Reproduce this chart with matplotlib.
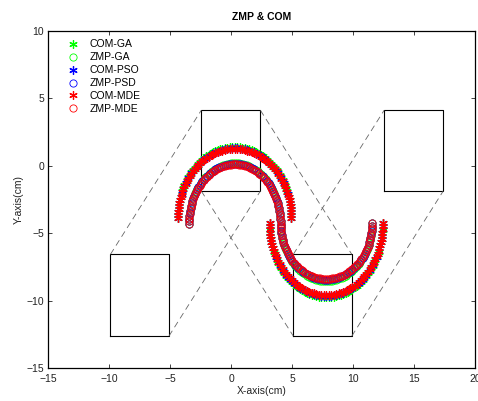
import matplotlib
matplotlib.use("Agg")
import matplotlib.pyplot as plt

# footprints (cm)
FOOT_LEFT = [-9.9, -2.45, 5.1, 12.55]
FOOT_RIGHT = [-5.1, 2.4, 9.9, 17.4]
FOOT_BOTTOM = [-12.63, -1.87, -12.63, -1.87]
FOOT_TOP = [-6.57, 4.12, -6.57, 4.12]

# COM trajectory: two arcs (x shared by the three methods)
COM_UP_X = [-4.35, -4.35, -4.33, -4.31, -4.28, -4.24, -4.19, -4.14, -4.07, -4.00,
            -3.91, -3.83, -3.73, -3.62, -3.51, -3.39, -3.26, -3.13, -2.99, -2.84,
            -2.69, -2.53, -2.37, -2.20, -2.03, -1.85, -1.67, -1.48, -1.29, -1.10,
            -0.90, -0.71, -0.51, -0.31, -0.11, 0.10, 0.30, 0.50, 0.71, 0.91,
            1.11, 1.31, 1.50, 1.70, 1.89, 2.08, 2.27, 2.45, 2.63, 2.80,
            2.97, 3.13, 3.29, 3.44, 3.59, 3.73, 3.86, 3.99, 4.11, 4.22,
            4.33, 4.43, 4.51, 4.60, 4.67, 4.74, 4.79, 4.84, 4.88, 4.91,
            4.93, 4.95, 4.95]
COM_LOW_X = [3.15, 3.15, 3.17, 3.19, 3.22, 3.26, 3.31, 3.36, 3.43, 3.50,
             3.59, 3.67, 3.77, 3.88, 3.99, 4.11, 4.24, 4.37, 4.51, 4.66,
             4.81, 4.97, 5.13, 5.30, 5.47, 5.65, 5.83, 6.02, 6.21, 6.40,
             6.60, 6.79, 6.99, 7.19, 7.39, 7.60, 7.80, 8.00, 8.21, 8.41,
             8.61, 8.81, 9.00, 9.20, 9.39, 9.58, 9.77, 9.95, 10.13, 10.30,
             10.47, 10.63, 10.79, 10.94, 11.09, 11.23, 11.36, 11.49, 11.61, 11.72,
             11.83, 11.93, 12.01, 12.10, 12.17, 12.24, 12.29, 12.34, 12.38, 12.41,
             12.43, 12.45, 12.45]

COM_UP_Y_GA = [-3.90, -3.67, -3.44, -3.21, -2.98, -2.75, -2.53, -2.31, -2.09, -1.87,
               -1.66, -1.45, -1.25, -1.05, -0.86, -0.67, -0.49, -0.32, -0.15, 0.01,
               0.16, 0.31, 0.44, 0.57, 0.69, 0.80, 0.90, 1.00, 1.08, 1.16,
               1.22, 1.27, 1.32, 1.35, 1.38, 1.40, 1.40, 1.40, 1.38, 1.35,
               1.32, 1.27, 1.22, 1.16, 1.08, 1.00, 0.90, 0.80, 0.69, 0.57,
               0.44, 0.31, 0.16, 0.01, -0.15, -0.32, -0.49, -0.67, -0.86, -1.05,
               -1.25, -1.45, -1.66, -1.87, -2.09, -2.31, -2.53, -2.75, -2.98, -3.21,
               -3.44, -3.67, -3.90]
COM_UP_Y_PSO = [-3.90, -3.67, -3.45, -3.22, -3.00, -2.78, -2.55, -2.34, -2.12, -1.91,
                -1.70, -1.50, -1.30, -1.11, -0.92, -0.73, -0.56, -0.39, -0.22, -0.07,
                0.08, 0.23, 0.36, 0.49, 0.60, 0.71, 0.81, 0.90, 0.99, 1.06,
                1.12, 1.18, 1.22, 1.26, 1.28, 1.30, 1.30, 1.30, 1.28, 1.26,
                1.22, 1.18, 1.12, 1.06, 0.99, 0.90, 0.81, 0.71, 0.60, 0.49,
                0.36, 0.23, 0.08, -0.07, -0.22, -0.39, -0.56, -0.73, -0.92, -1.11,
                -1.30, -1.50, -1.70, -1.91, -2.12, -2.34, -2.55, -2.78, -3.00, -3.22,
                -3.45, -3.67, -3.90]
COM_UP_Y_MDE = [-3.90, -3.68, -3.45, -3.23, -3.01, -2.79, -2.57, -2.35, -2.14, -1.93,
                -1.72, -1.52, -1.33, -1.13, -0.95, -0.77, -0.59, -0.42, -0.26, -0.10,
                0.05, 0.19, 0.32, 0.44, 0.56, 0.67, 0.77, 0.86, 0.94, 1.01,
                1.07, 1.13, 1.17, 1.21, 1.23, 1.24, 1.25, 1.24, 1.23, 1.21,
                1.17, 1.13, 1.07, 1.01, 0.94, 0.86, 0.77, 0.67, 0.56, 0.44,
                0.32, 0.19, 0.05, -0.10, -0.26, -0.42, -0.59, -0.77, -0.95, -1.13,
                -1.33, -1.52, -1.72, -1.93, -2.14, -2.35, -2.57, -2.79, -3.01, -3.23,
                -3.45, -3.68, -3.90]

COM_LOW_Y_GA = [-4.25, -4.49, -4.73, -4.97, -5.21, -5.44, -5.67, -5.90, -6.13, -6.36,
                -6.57, -6.79, -7.00, -7.21, -7.41, -7.60, -7.79, -7.97, -8.14, -8.31,
                -8.46, -8.61, -8.76, -8.89, -9.01, -9.13, -9.24, -9.33, -9.42, -9.50,
                -9.56, -9.62, -9.67, -9.70, -9.73, -9.75, -9.75, -9.75, -9.73, -9.70,
                -9.67, -9.62, -9.56, -9.50, -9.42, -9.33, -9.24, -9.13, -9.01, -8.89,
                -8.76, -8.61, -8.46, -8.31, -8.14, -7.97, -7.79, -7.60, -7.41, -7.21,
                -7.00, -6.79, -6.57, -6.36, -6.13, -5.90, -5.67, -5.44, -5.21, -4.97,
                -4.73, -4.49, -4.25]
COM_LOW_Y_PSO = [-4.25, -4.49, -4.72, -4.96, -5.19, -5.42, -5.65, -5.87, -6.10, -6.32,
                 -6.53, -6.74, -6.95, -7.15, -7.35, -7.54, -7.72, -7.90, -8.07, -8.23,
                 -8.39, -8.53, -8.67, -8.80, -8.93, -9.04, -9.14, -9.24, -9.32, -9.40,
                 -9.47, -9.52, -9.57, -9.60, -9.63, -9.65, -9.65, -9.65, -9.63, -9.60,
                 -9.57, -9.52, -9.47, -9.40, -9.32, -9.24, -9.14, -9.04, -8.93, -8.80,
                 -8.67, -8.53, -8.39, -8.23, -8.07, -7.90, -7.72, -7.54, -7.35, -7.15,
                 -6.95, -6.74, -6.53, -6.32, -6.10, -5.87, -5.65, -5.42, -5.19, -4.96,
                 -4.72, -4.49, -4.25]
COM_LOW_Y_MDE = [-4.25, -4.48, -4.72, -4.95, -5.18, -5.41, -5.64, -5.86, -6.08, -6.30,
                 -6.51, -6.72, -6.93, -7.13, -7.32, -7.51, -7.69, -7.86, -8.03, -8.20,
                 -8.35, -8.50, -8.63, -8.76, -8.88, -9.00, -9.10, -9.19, -9.28, -9.35,
                 -9.42, -9.47, -9.52, -9.55, -9.58, -9.60, -9.60, -9.60, -9.58, -9.55,
                 -9.52, -9.47, -9.42, -9.35, -9.28, -9.19, -9.10, -9.00, -8.88, -8.76,
                 -8.63, -8.50, -8.35, -8.20, -8.03, -7.86, -7.69, -7.51, -7.32, -7.13,
                 -6.93, -6.72, -6.51, -6.30, -6.08, -5.86, -5.64, -5.41, -5.18, -4.95,
                 -4.72, -4.48, -4.25]

# ZMP trajectory: one S-shaped curve (upper half then lower half)
ZMP_UP_X = [-3.45, -3.45, -3.44, -3.42, -3.39, -3.36, -3.32, -3.28, -3.22, -3.17,
            -3.10, -3.03, -2.95, -2.86, -2.77, -2.68, -2.57, -2.47, -2.35, -2.23,
            -2.11, -1.98, -1.85, -1.72, -1.58, -1.43, -1.29, -1.14, -0.98, -0.83,
            -0.67, -0.51, -0.35, -0.19, -0.03, 0.14, 0.30, 0.46, 0.63, 0.79,
            0.95, 1.11, 1.27, 1.43, 1.58, 1.74, 1.89, 2.03, 2.18, 2.32,
            2.45, 2.58, 2.71, 2.83, 2.95, 3.07, 3.17, 3.28, 3.37, 3.46,
            3.55, 3.63, 3.70, 3.77, 3.82, 3.88, 3.92, 3.96, 3.99, 4.02,
            4.04, 4.05, 4.05]
ZMP_LOW_X = [4.05, 4.06, 4.08, 4.11, 4.14, 4.18, 4.22, 4.28, 4.33, 4.40,
             4.47, 4.55, 4.64, 4.73, 4.82, 4.93, 5.03, 5.15, 5.27, 5.39,
             5.52, 5.65, 5.78, 5.92, 6.07, 6.21, 6.36, 6.52, 6.67, 6.83,
             6.99, 7.15, 7.31, 7.47, 7.64, 7.80, 7.96, 8.13, 8.29, 8.45,
             8.61, 8.77, 8.93, 9.08, 9.24, 9.39, 9.53, 9.68, 9.82, 9.95,
             10.08, 10.21, 10.33, 10.45, 10.57, 10.67, 10.78, 10.87, 10.96, 11.05,
             11.13, 11.20, 11.27, 11.32, 11.38, 11.42, 11.46, 11.49, 11.52, 11.54,
             11.55, 11.55]

ZMP_UP_Y_GA = [-4.30, -4.10, -3.91, -3.71, -3.52, -3.33, -3.14, -2.95, -2.76, -2.58,
               -2.40, -2.22, -2.05, -1.88, -1.72, -1.56, -1.41, -1.26, -1.12, -0.98,
               -0.85, -0.73, -0.61, -0.51, -0.40, -0.31, -0.22, -0.14, -0.07, -0.01,
               0.05, 0.09, 0.13, 0.16, 0.18, 0.20, 0.20, 0.20, 0.18, 0.16,
               0.13, 0.09, 0.05, -0.01, -0.07, -0.14, -0.22, -0.31, -0.40, -0.51,
               -0.61, -0.73, -0.85, -0.98, -1.12, -1.26, -1.41, -1.56, -1.72, -1.88,
               -2.05, -2.22, -2.40, -2.58, -2.76, -2.95, -3.14, -3.33, -3.52, -3.71,
               -3.91, -4.10, -4.30]
ZMP_UP_Y_PSO = [-4.30, -4.11, -3.91, -3.72, -3.53, -3.34, -3.15, -2.96, -2.78, -2.60,
                -2.42, -2.25, -2.08, -1.91, -1.75, -1.59, -1.44, -1.29, -1.15, -1.02,
                -0.89, -0.77, -0.65, -0.55, -0.45, -0.35, -0.27, -0.19, -0.12, -0.06,
                0.00, 0.05, 0.08, 0.11, 0.13, 0.15, 0.15, 0.15, 0.13, 0.11,
                0.08, 0.05, 0.00, -0.06, -0.12, -0.19, -0.27, -0.35, -0.45, -0.55,
                -0.65, -0.77, -0.89, -1.02, -1.15, -1.29, -1.44, -1.59, -1.75, -1.91,
                -2.08, -2.25, -2.42, -2.60, -2.78, -2.96, -3.15, -3.34, -3.53, -3.72,
                -3.91, -4.11, -4.30]
ZMP_UP_Y_MDE = [-4.30, -4.11, -3.92, -3.73, -3.54, -3.35, -3.16, -2.98, -2.80, -2.62,
                -2.44, -2.27, -2.10, -1.94, -1.78, -1.62, -1.47, -1.33, -1.19, -1.06,
                -0.93, -0.81, -0.70, -0.59, -0.49, -0.40, -0.31, -0.24, -0.17, -0.10,
                -0.05, 0.00, 0.03, 0.06, 0.08, 0.10, 0.10, 0.10, 0.08, 0.06,
                0.03, 0.00, -0.05, -0.10, -0.17, -0.24, -0.31, -0.40, -0.49, -0.59,
                -0.70, -0.81, -0.93, -1.06, -1.19, -1.33, -1.47, -1.62, -1.78, -1.94,
                -2.10, -2.27, -2.44, -2.62, -2.80, -2.98, -3.16, -3.35, -3.54, -3.73,
                -3.92, -4.11, -4.30]

ZMP_LOW_Y_GA = [-4.44, -4.63, -4.81, -5.00, -5.18, -5.36, -5.54, -5.72, -5.90, -6.07,
                -6.24, -6.40, -6.56, -6.72, -6.87, -7.01, -7.16, -7.29, -7.42, -7.54,
                -7.66, -7.77, -7.88, -7.97, -8.06, -8.15, -8.22, -8.29, -8.35, -8.40,
                -8.45, -8.49, -8.51, -8.53, -8.55, -8.55, -8.55, -8.53, -8.51, -8.49,
                -8.45, -8.40, -8.35, -8.29, -8.22, -8.15, -8.06, -7.97, -7.88, -7.77,
                -7.66, -7.54, -7.42, -7.29, -7.16, -7.01, -6.87, -6.72, -6.56, -6.40,
                -6.24, -6.07, -5.90, -5.72, -5.54, -5.36, -5.18, -5.00, -4.81, -4.63,
                -4.44, -4.25]
ZMP_LOW_Y_PSO = [-4.43, -4.62, -4.80, -4.98, -5.16, -5.34, -5.51, -5.69, -5.86, -6.03,
                 -6.19, -6.35, -6.51, -6.66, -6.81, -6.95, -7.09, -7.22, -7.35, -7.47,
                 -7.58, -7.69, -7.79, -7.89, -7.98, -8.06, -8.13, -8.20, -8.26, -8.31,
                 -8.35, -8.39, -8.41, -8.43, -8.45, -8.45, -8.45, -8.43, -8.41, -8.39,
                 -8.35, -8.31, -8.26, -8.20, -8.13, -8.06, -7.98, -7.89, -7.79, -7.69,
                 -7.58, -7.47, -7.35, -7.22, -7.09, -6.95, -6.81, -6.66, -6.51, -6.35,
                 -6.19, -6.03, -5.86, -5.69, -5.51, -5.34, -5.16, -4.98, -4.80, -4.62,
                 -4.43, -4.25]
ZMP_LOW_Y_MDE = [-4.43, -4.61, -4.79, -4.97, -5.15, -5.32, -5.50, -5.67, -5.84, -6.00,
                 -6.17, -6.33, -6.48, -6.63, -6.78, -6.92, -7.05, -7.19, -7.31, -7.43,
                 -7.54, -7.65, -7.75, -7.84, -7.93, -8.01, -8.08, -8.15, -8.21, -8.26,
                 -8.30, -8.34, -8.36, -8.38, -8.40, -8.40, -8.40, -8.38, -8.36, -8.34,
                 -8.30, -8.26, -8.21, -8.15, -8.08, -8.01, -7.93, -7.84, -7.75, -7.65,
                 -7.54, -7.43, -7.31, -7.19, -7.05, -6.92, -6.78, -6.63, -6.48, -6.33,
                 -6.17, -6.00, -5.84, -5.67, -5.50, -5.32, -5.15, -4.97, -4.79, -4.61,
                 -4.43, -4.25]

X_TICKS = [-15, -10, -5, 0, 5, 10, 15, 20]
Y_TICKS = [-15, -10, -5, 0, 5, 10]


def main():
    plt.rcParams["font.family"] = ["Liberation Sans", "DejaVu Sans"]
    plt.rcParams["lines.scale_dashes"] = False

    fig = plt.figure(figsize=(4.78, 4.01), dpi=100)
    ax = fig.add_axes([0.101, 0.0823, 0.8926, 0.8404])

    # footprints
    for l, r, b, t in zip(FOOT_LEFT, FOOT_RIGHT, FOOT_BOTTOM, FOOT_TOP):
        ax.plot([l, r, r, l, l], [b, b, t, t, b], color="black", lw=0.8)

    # dashed links between consecutive footprints
    for i in range(len(FOOT_LEFT) - 1):
        up = FOOT_TOP[i + 1] > FOOT_TOP[i]
        if up:
            pairs = [(FOOT_LEFT, FOOT_TOP), (FOOT_RIGHT, FOOT_BOTTOM)]
        else:
            pairs = [(FOOT_LEFT, FOOT_BOTTOM), (FOOT_RIGHT, FOOT_TOP)]
        for xs, ys in pairs:
            ax.plot([xs[i], xs[i + 1]], [ys[i], ys[i + 1]], color="#666666",
                    lw=0.6, dashes=(4.5, 3))

    com_x = COM_UP_X + COM_LOW_X
    zmp_x = ZMP_UP_X + ZMP_LOW_X
    series = [
        ("GA", "#00ff00", COM_UP_Y_GA + COM_LOW_Y_GA, ZMP_UP_Y_GA + ZMP_LOW_Y_GA),
        ("PSO", "#0000ff", COM_UP_Y_PSO + COM_LOW_Y_PSO, ZMP_UP_Y_PSO + ZMP_LOW_Y_PSO),
        ("MDE", "#ff0000", COM_UP_Y_MDE + COM_LOW_Y_MDE, ZMP_UP_Y_MDE + ZMP_LOW_Y_MDE),
    ]
    handles = []
    for name, col, com_y, zmp_y in series:
        h1, = ax.plot(com_x, com_y, ls="none", marker=(6, 2, 0), ms=6, mew=0.9,
                      color=col, label="COM-" + name)
        zlabel = "ZMP-PSD" if name == "PSO" else "ZMP-" + name
        h2, = ax.plot(zmp_x, zmp_y, ls="none", marker="o", ms=5.2, mew=0.6,
                      mfc="none", color=col, label=zlabel)
        handles += [h1, h2]

    ax.set_xlim(-15, 20)
    ax.set_ylim(-15, 10)
    ax.set_xticks(X_TICKS)
    ax.set_yticks(Y_TICKS)
    ax.tick_params(direction="in", length=3, width=0.6, labelsize=7.5,
                   top=True, right=True, colors="#222222")
    ax.tick_params(axis="x", pad=4)
    ax.tick_params(axis="y", pad=3)
    for s in ax.spines.values():
        s.set_linewidth(0.9)
    ax.set_xlabel("X-axis(cm)", fontsize=7.5, labelpad=1.5, color="#222222")
    ax.set_ylabel("Y-axis(cm)", fontsize=7.5, labelpad=2, color="#222222")
    ax.set_title("ZMP & COM", fontsize=7.5, fontweight="bold", pad=8)

    ax.legend(handles=handles, loc="upper left", bbox_to_anchor=(0.0465, 0.975),
              frameon=False, fontsize=7.5, numpoints=1, handlelength=1.0,
              handletextpad=1.1, labelspacing=0.28, borderpad=0,
              borderaxespad=0)

    fig.savefig("out.png", dpi=100)


if __name__ == "__main__":
    main()
